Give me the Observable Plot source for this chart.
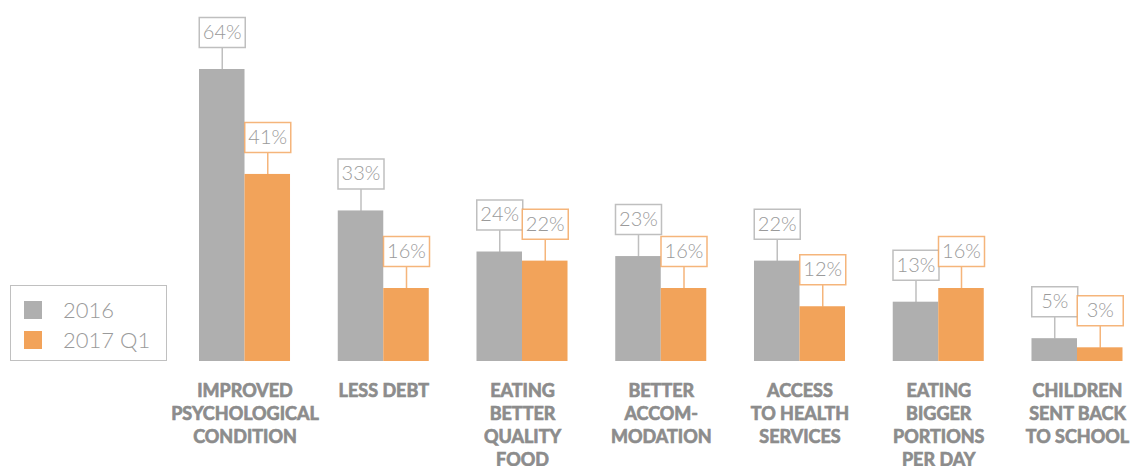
<!DOCTYPE html>
<html>
<head>
<meta charset="utf-8">
<script src="https://cdn.jsdelivr.net/npm/d3@7"></script>
<script src="https://cdn.jsdelivr.net/npm/@observablehq/plot@0.6"></script>
<style>
  html, body { margin: 0; padding: 0; background: #fff; }
  #wrap { position: relative; width: 1136px; height: 466px; font-family: Lato, "Open Sans", sans-serif; }
  #legend { position: absolute; left: 10px; top: 285px; width: 155px; height: 74px; border: 1.5px solid #c0c0c0; background: #fff; }
  .li { position: absolute; left: 13px; display: flex; align-items: center; font-size: 22px; font-weight: 300; color: #9a9a9a; }
  .sw { width: 18px; height: 18px; margin-right: 21px; }
  g[aria-label="fx-axis tick label"] text { stroke: #8c8c8c; stroke-width: 0.7px; paint-order: stroke; }
</style>
</head>
<body>
<div id="wrap"></div>
<script>
const categories = ["psych", "debt", "food", "accom", "health", "portions", "school"];
const categoryLabels = [
  "IMPROVED\nPSYCHOLOGICAL\nCONDITION",
  "LESS DEBT",
  "EATING\nBETTER\nQUALITY\nFOOD",
  "BETTER\nACCOM-\nMODATION",
  "ACCESS\nTO HEALTH\nSERVICES",
  "EATING\nBIGGER\nPORTIONS\nPER DAY",
  "CHILDREN\nSENT BACK\nTO SCHOOL"
];
const seriesNames = ["2016", "2017 Q1"];
const values2016 = [64, 33, 24, 23, 22, 13, 5];
const values2017Q1 = [41, 16, 22, 16, 12, 16, 3];
const seriesColors = ["#afafaf", "#f2a35a"];

const data = categories.flatMap((c, i) => [
  {category: c, series: seriesNames[0], value: values2016[i]},
  {category: c, series: seriesNames[1], value: values2017Q1[i]}
]);
const labelMap = Object.fromEntries(categories.map((c, i) => [c, categoryLabels[i]]));

// label box + connector drawn as a custom symbol anchored at the bar top
const boxSymbol = {
  draw(context, size) {
    context.moveTo(0, 0);
    context.lineTo(0, -22);
    context.moveTo(-23, -22);
    context.lineTo(23, -22);
    context.lineTo(23, -52);
    context.lineTo(-23, -52);
    context.closePath();
  }
};

const chart = Plot.plot({
  width: 1136,
  height: 466,
  marginTop: 69,
  marginBottom: 105,
  marginLeft: 199,
  marginRight: 13.5,
  style: {fontFamily: "Lato, 'Open Sans', sans-serif", background: "transparent"},
  y: {domain: [0, 64], axis: null},
  x: {domain: seriesNames, padding: 0, round: false, axis: null},
  fx: {domain: categories, paddingInner: 0.344, paddingOuter: 0, round: false, label: null},
  color: {domain: seriesNames, range: seriesColors},
  marks: [
    Plot.barY(data, {fx: "category", x: "series", y: "value", fill: "series"}),
    Plot.dot(data, {fx: "category", x: "series", y: "value", symbol: boxSymbol, fill: "white", stroke: "series", strokeWidth: 1.5, strokeOpacity: 0.8}),
    Plot.text(data, {fx: "category", x: "series", y: "value", text: d => d.value + "%", dy: -37, fill: "#9a9a9a", fontSize: 20, fontWeight: 300}),
    Plot.axisFx({anchor: "bottom", tickSize: 0, tickPadding: 19, tickFormat: d => labelMap[d], fontSize: 18, fontWeight: "bold", lineHeight: 1.28, fill: "#8c8c8c", label: null})
  ]
});
document.getElementById("wrap").appendChild(chart);

const legend = document.createElement("div");
legend.id = "legend";
seriesNames.forEach((s, i) => {
  const item = document.createElement("div");
  item.className = "li";
  item.style.top = (i === 0 ? 10 : 40) + "px";
  const sw = document.createElement("div");
  sw.className = "sw";
  sw.style.background = seriesColors[i];
  const t = document.createElement("span");
  t.textContent = s;
  item.appendChild(sw);
  item.appendChild(t);
  legend.appendChild(item);
});
document.getElementById("wrap").appendChild(legend);
</script>
</body>
</html>
